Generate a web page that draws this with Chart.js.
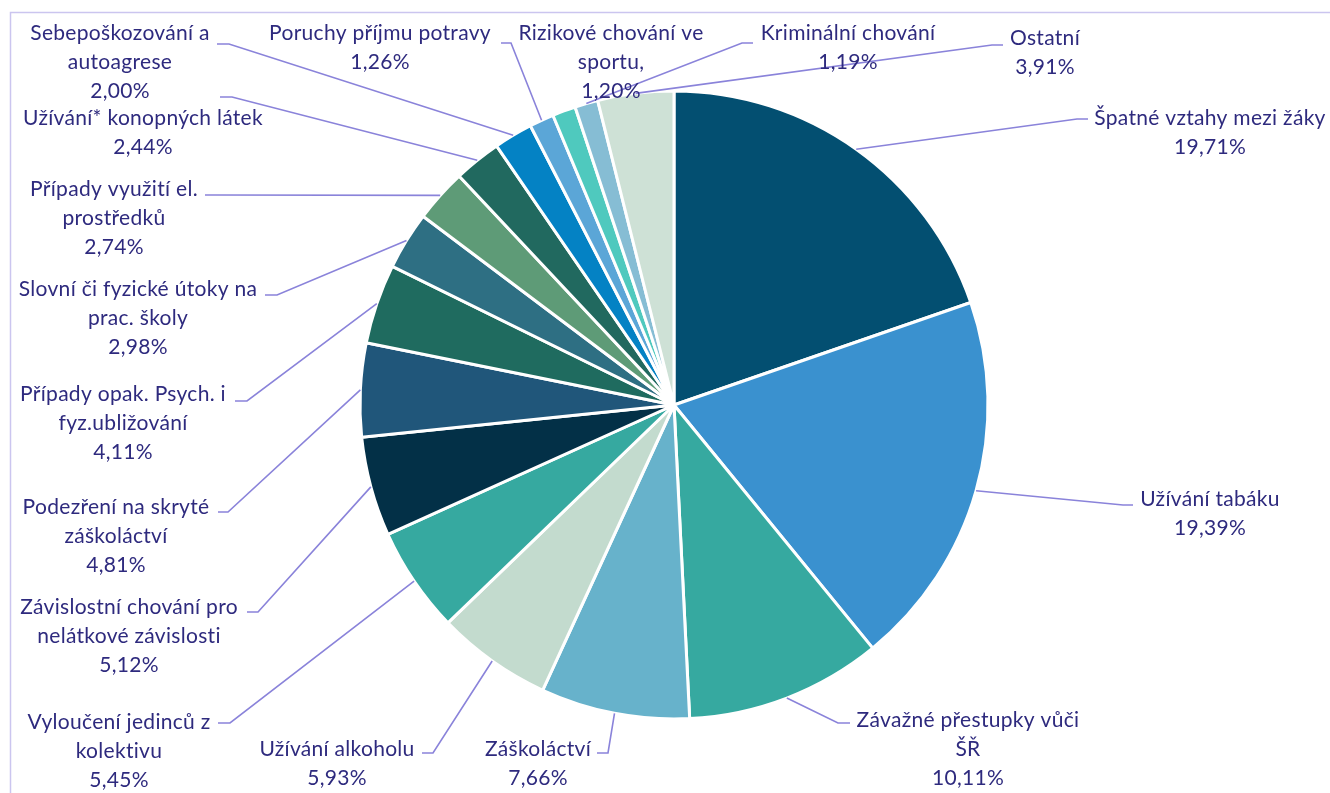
<!DOCTYPE html>
<html>
<head>
<meta charset="utf-8">
<script src="https://cdn.jsdelivr.net/npm/chart.js@4"></script>
<style>
  html, body { margin: 0; padding: 0; background: #ffffff; }
  #wrap { width: 1330px; height: 793px; position: relative; }
</style>
</head>
<body>
<div id="wrap"><canvas id="c" width="1330" height="793"></canvas></div>
<script>
// ---- data ----
const categories = [
  ["Špatné vztahy mezi žáky"],
  ["Užívání tabáku"],
  ["Závažné přestupky vůči", "ŠŘ"],
  ["Záškoláctví"],
  ["Užívání alkoholu"],
  ["Vyloučení jedinců z", "kolektivu"],
  ["Závislostní chování pro", "nelátkové závislosti"],
  ["Podezření na skryté", "záškoláctví"],
  ["Případy opak. Psych. i", "fyz.ubližování"],
  ["Slovní či fyzické útoky na", "prac. školy"],
  ["Případy využití el.", "prostředků"],
  ["Užívání* konopných látek"],
  ["Sebepoškozování a", "autoagrese"],
  ["Poruchy příjmu potravy"],
  ["Rizikové chování ve", "sportu,"],
  ["Kriminální chování"],
  ["Ostatní"]
];
const values = [19.71, 19.39, 10.11, 7.66, 5.93, 5.45, 5.12, 4.81, 4.11, 2.98, 2.74, 2.44, 2.00, 1.26, 1.20, 1.19, 3.91];

// ---- styles ----
const colors = [
  "#034F71", "#3A91CF", "#36A9A0", "#67B2CB", "#C3DBCE", "#36A9A0",
  "#033047", "#20567A", "#1F6B5F", "#2E6F83", "#5E9B77", "#21695F",
  "#0482C4", "#5BA6D7", "#4FC9BE", "#86BDD4", "#CEE1D6"
];
const textColor = "#2E2A7E";
const leaderColor = "#8A83DA";
const fontFamily = "Lato, 'Open Sans', sans-serif";
const fontSize = 21;
const lineHeight = 29;

// ---- label layout: text centre x, first line centre y, stub [xNearLabel, xFar, y] ----
const labelLayout = [
  { cx: 1210, cy: 118, stub: [1088, 1077, 119] },
  { cx: 1210, cy: 499, stub: [1133, 1123, 505] },
  { cx: 968,  cy: 720, stub: [850, 838, 723] },
  { cx: 538,  cy: 749, stub: [597, 608, 753] },
  { cx: 337,  cy: 749, stub: [422, 433, 753] },
  { cx: 119,  cy: 722, stub: [218, 230, 723] },
  { cx: 129,  cy: 607, stub: [247, 258, 612] },
  { cx: 116,  cy: 507, stub: [218, 228, 512] },
  { cx: 123,  cy: 394, stub: [235, 247, 401] },
  { cx: 138,  cy: 289, stub: [265, 277, 295] },
  { cx: 114,  cy: 189, stub: [205, 215, 195] },
  { cx: 143,  cy: 118, stub: [220, 232, 97] },
  { cx: 120,  cy: 33,  stub: [217, 229, 44] },
  { cx: 380,  cy: 33,  stub: [501, 511, 43] },
  { cx: 611,  cy: 33,  stub: null },
  { cx: 848,  cy: 33,  stub: [753, 742, 43] },
  { cx: 1045, cy: 38,  stub: [1003, 992, 45] }
];

const fmt = v => v.toFixed(2).replace('.', ',') + '%';

const frame = {
  id: 'frame',
  beforeDraw(chart) {
    const ctx = chart.ctx;
    ctx.save();
    ctx.fillStyle = '#ffffff';
    ctx.fillRect(0, 0, chart.width, chart.height);
    ctx.strokeStyle = '#CBC5EF';
    ctx.lineWidth = 1.5;
    ctx.beginPath();
    ctx.moveTo(10.5, chart.height + 2);
    ctx.lineTo(10.5, 12.5);
    ctx.lineTo(chart.width + 2, 12.5);
    ctx.stroke();
    ctx.restore();
  }
};

const outsideLabels = {
  id: 'outsideLabels',
  afterDatasetsDraw(chart) {
    const ctx = chart.ctx;
    const meta = chart.getDatasetMeta(0);
    ctx.save();
    // leader lines
    ctx.strokeStyle = leaderColor;
    ctx.lineWidth = 1.6;
    meta.data.forEach((arc, i) => {
      const L = labelLayout[i];
      if (!L.stub) return;
      const p = arc.getProps(['x', 'y', 'startAngle', 'endAngle', 'outerRadius'], true);
      const mid = (p.startAngle + p.endAngle) / 2;
      const px = p.x + Math.cos(mid) * p.outerRadius;
      const py = p.y + Math.sin(mid) * p.outerRadius;
      ctx.beginPath();
      ctx.moveTo(L.stub[0], L.stub[2]);
      ctx.lineTo(L.stub[1], L.stub[2]);
      ctx.lineTo(px, py);
      ctx.stroke();
    });
    // texts
    ctx.fillStyle = textColor;
    ctx.font = fontSize + 'px ' + fontFamily;
    if ('letterSpacing' in ctx) ctx.letterSpacing = '0.3px';
    ctx.textAlign = 'center';
    ctx.textBaseline = 'middle';
    meta.data.forEach((arc, i) => {
      const L = labelLayout[i];
      const lines = categories[i].concat([fmt(values[i])]);
      lines.forEach((t, k) => ctx.fillText(t, L.cx, L.cy + k * lineHeight));
    });
    ctx.restore();
  }
};

new Chart(document.getElementById('c'), {
  type: 'pie',
  data: {
    labels: categories.map(c => c.join(' ')),
    datasets: [{
      data: values,
      backgroundColor: colors,
      borderColor: '#ffffff',
      borderWidth: 3
    }]
  },
  options: {
    responsive: false,
    animation: false,
    radius: 314,
    layout: { padding: { left: 18, right: 0, top: 17, bottom: 0 } },
    plugins: {
      legend: { display: false },
      tooltip: { enabled: false }
    }
  },
  plugins: [frame, outsideLabels]
});
</script>
</body>
</html>
